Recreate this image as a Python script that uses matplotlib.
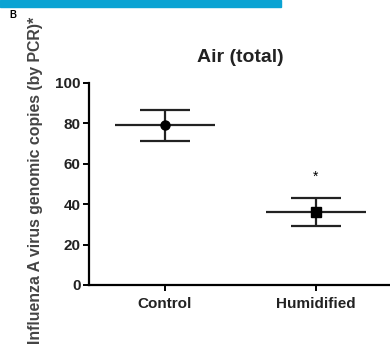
import matplotlib
matplotlib.use("Agg")
import matplotlib.pyplot as plt
from matplotlib.patches import Rectangle

plt.rcParams['font.family'] = ['Liberation Sans', 'DejaVu Sans']

categories = ["Control", "Humidified"]
means = [79, 36]
upper = [86.5, 43]
lower = [71.5, 29]
markers = ["o", "s"]

fig = plt.figure(figsize=(3.9, 3.52), dpi=100)
fig.patches.append(Rectangle((0, 1 - 7/352), 281/390, 7/352, transform=fig.transFigure,
                             color="#0aa3d3", zorder=0))
fig.text(13/390, 1 - 15/352, "B", fontsize=7, fontweight="bold", ha="center", va="center")

ax = fig.add_axes([89/390, 1 - 285/352, 1 - 89/390, (285 - 83)/352])
xs = [1, 2]
for x, m, u, l, mk in zip(xs, means, upper, lower, markers):
    ax.plot([x - 0.331, x + 0.331], [m, m], color="#222222", lw=1.6, solid_capstyle="butt")
    ax.plot([x, x], [l, u], color="#222222", lw=1.6, solid_capstyle="butt")
    ax.plot([x - 0.166, x + 0.166], [u, u], color="#222222", lw=1.6, solid_capstyle="butt")
    ax.plot([x - 0.166, x + 0.166], [l, l], color="#222222", lw=1.6, solid_capstyle="butt")
    ax.plot([x], [m], marker=mk, color="black", markersize=6.5, linestyle="none")
ax.text(2, upper[1] + 10.5, "*", ha="center", va="center", fontsize=10)

ax.set_xlim(1 - 76/151, 2 + 74/151)
ax.set_ylim(0, 100)
ax.set_yticks([0, 20, 40, 60, 80, 100])
ax.set_xticks(xs)
ax.set_xticklabels(categories)
for lab in ax.get_xticklabels() + ax.get_yticklabels():
    lab.set_fontweight("bold")
    lab.set_fontsize(11)
    lab.set_color("#222222")
ax.spines["top"].set_visible(False)
ax.spines["right"].set_visible(False)
ax.spines["left"].set_linewidth(1.6)
ax.spines["bottom"].set_linewidth(1.6)
ax.tick_params(width=1.4, length=4, direction="out")
ax.tick_params(axis="y", pad=2)
ax.tick_params(axis="x", pad=5)
fig.text(240/390, 1 - 57/352, "Air (total)", fontsize=14, fontweight="semibold",
         ha="center", va="center", color="#222222")
fig.text(36/390, 1 - 180/352, "Influenza A virus genomic copies (by PCR)*", rotation=90,
         fontsize=11.4, fontweight="bold", color="#444444", ha="center", va="center")

fig.savefig("out.png", dpi=100)
